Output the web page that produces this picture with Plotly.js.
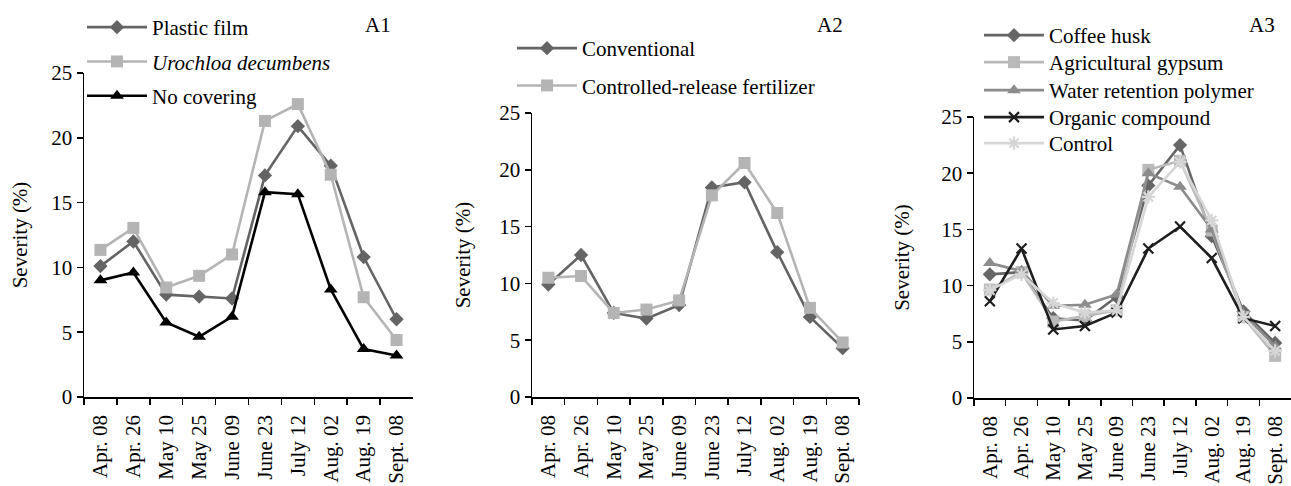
<!DOCTYPE html>
<html>
<head>
<meta charset="utf-8">
<script src="https://cdn.plot.ly/plotly-3.0.1.min.js"></script>
<style>
html, body { margin:0; padding:0; overflow:hidden; background:#fff; }
#chart { width:1291px; height:486px; }
</style>
</head>
<body>
<div id="chart"></div>
<script>
// Sampling dates (category labels)
const dates = ["Apr. 08","Apr. 26","May 10","May 25","June 09","June 23","July 12","Aug. 02","Aug. 19","Sept. 08"];

// Panel A1 – soil covering
const plasticFilm = [10.1, 12.0, 7.9, 7.75, 7.6, 17.1, 20.9, 17.85, 10.8, 6.0];
const urochloa    = [11.35, 13.05, 8.45, 9.35, 11.0, 21.3, 22.6, 17.15, 7.7, 4.4];
const noCovering  = [9.0, 9.6, 5.75, 4.65, 6.2, 15.8, 15.65, 8.3, 3.7, 3.2];

// Panel A2 – fertilizer
const conventional = [9.9, 12.5, 7.4, 6.9, 8.1, 18.45, 18.9, 12.75, 7.05, 4.3];
const controlledRelease = [10.5, 10.65, 7.4, 7.7, 8.5, 17.75, 20.6, 16.2, 7.85, 4.8];

// Panel A3 – soil conditioners
const coffeeHusk = [11.0, 11.2, 7.1, 6.9, 9.0, 18.9, 22.5, 14.4, 7.7, 4.9];
const gypsum     = [9.65, 11.2, 6.8, 7.3, 7.8, 20.3, 21.1, 14.9, 7.2, 3.75];
const polymer    = [12.0, 11.3, 8.2, 8.3, 9.2, 20.0, 18.8, 15.0, 7.5, 4.6];
const organic    = [8.6, 13.3, 6.1, 6.4, 7.6, 13.3, 15.25, 12.45, 7.1, 6.4];
const controlA3  = [9.6, 11.0, 8.45, 7.6, 7.8, 17.9, 21.0, 15.8, 7.2, 4.2];

const FONT = "Times New Roman";
const FS = 21;
const DARK = "#646464", LIGHT = "#b4b4b4", BLACK = "#000000";

function tr(name, y, xa, ya, color, symbol, size, legend, group){
  const m = {symbol: symbol, size: size, color: color};
  if (symbol.indexOf("x-thin") === 0 || symbol.indexOf("asterisk") === 0) {
    m.line = {color: color, width: 2.2};
  }
  return {
    type: "scatter", mode: "lines+markers", name: name, x: dates, y: y,
    xaxis: xa, yaxis: ya, legend: legend, legendgroup: group,
    line: {color: color, width: 2.6},
    marker: m, cliponaxis: false
  };
}

const data = [
  tr("Plastic film", plasticFilm, "x", "y", DARK, "diamond", 11, "legend", "a1"),
  tr("<i>Urochloa decumbens</i>", urochloa, "x", "y", LIGHT, "square", 12, "legend", "a2"),
  tr("No covering", noCovering, "x", "y", BLACK, "triangle-up", 12, "legend", "a3"),
  tr("Conventional", conventional, "x2", "y2", DARK, "diamond", 11, "legend2", "b1"),
  tr("Controlled-release fertilizer", controlledRelease, "x2", "y2", LIGHT, "square", 12, "legend2", "b2"),
  tr("Coffee husk", coffeeHusk, "x3", "y3", "#666666", "diamond", 11, "legend3", "c1"),
  tr("Agricultural gypsum", gypsum, "x3", "y3", "#bababa", "square", 12, "legend4", "c2"),
  tr("Water retention polymer", polymer, "x3", "y3", "#8c8c8c", "triangle-up", 12, "legend5", "c3"),
  tr("Organic compound", organic, "x3", "y3", "#1e1e1e", "x-thin", 10, "legend6", "c4"),
  tr("Control", controlA3, "x3", "y3", "#d6d6d6", "asterisk", 11, "legend7", "c5")
];

const W = 1291, H = 486;
function px(v){ return v / W; }
function py(v){ return 1 - v / H; }

function xax(d0, d1, anchor){
  return {
    domain: [px(d0), px(d1)], anchor: anchor, type: "category",
    range: [-0.5, 9.5], tickson: "boundaries", ticks: "outside", ticklen: 6,
    tickwidth: 1.5, tickcolor: "#000", tickangle: -90, showline: true,
    linecolor: "#000", linewidth: 1.5, showgrid: false, zeroline: false,
    ticklabelstandoff: 8,
    tickfont: {family: FONT, size: FS, color: "#000"}, automargin: false
  };
}
function yax(y0, y25, anchor, standoff){
  return {
    domain: [py(y0), py(y25)], anchor: anchor, range: [0, 25],
    tickvals: [0,5,10,15,20,25], ticks: "outside", ticklen: 6, tickwidth: 1.5,
    tickcolor: "#000", showline: true, linecolor: "#000", linewidth: 1.5,
    showgrid: false, zeroline: false,
    tickfont: {family: FONT, size: FS, color: "#000"},
    title: {text: "Severity (%)", font: {family: FONT, size: FS, color: "#000"}, standoff: standoff},
    automargin: false
  };
}
function leg(x, y, gap){
  return {
    x: px(x), y: py(y), xanchor: "left", yanchor: "top",
    font: {family: FONT, size: FS, color: "#000"},
    bgcolor: "rgba(0,0,0,0)", borderwidth: 0, itemwidth: 60,
    tracegroupgap: gap, traceorder: "grouped", itemclick: false
  };
}
function lab(t, x, y){
  return {text: t, x: px(x), y: py(y), xref: "paper", yref: "paper", xanchor: "center", yanchor: "middle",
          showarrow: false, font: {family: FONT, size: FS, color: "#000"}};
}

const layout = {
  width: W, height: H,
  margin: {l: 0, r: 0, t: 0, b: 0},
  paper_bgcolor: "#fff", plot_bgcolor: "#fff",
  font: {family: FONT, size: FS, color: "#000"},
  showlegend: true,
  xaxis: xax(84, 413, "y"),
  yaxis: yax(397, 73, "x", 18),
  xaxis2: xax(532, 859, "y2"),
  yaxis2: yax(397, 113, "x2", 23),
  xaxis3: xax(974, 1291, "y3"),
  yaxis3: yax(398, 117, "x3", 26),
  legend: leg(82, 7, 4),
  legend2: leg(512, 28, 7),
  legend3: leg(979, 15, 0),
  legend4: leg(979, 42, 0),
  legend5: leg(979, 70, 0),
  legend6: leg(979, 97, 0),
  legend7: leg(979, 123, 0),
  annotations: [ lab("A1", 378, 25), lab("A2", 830, 25), lab("A3", 1262, 25) ]
};

Plotly.newPlot("chart", data, layout, {displayModeBar: false, staticPlot: true});
</script>
</body>
</html>
